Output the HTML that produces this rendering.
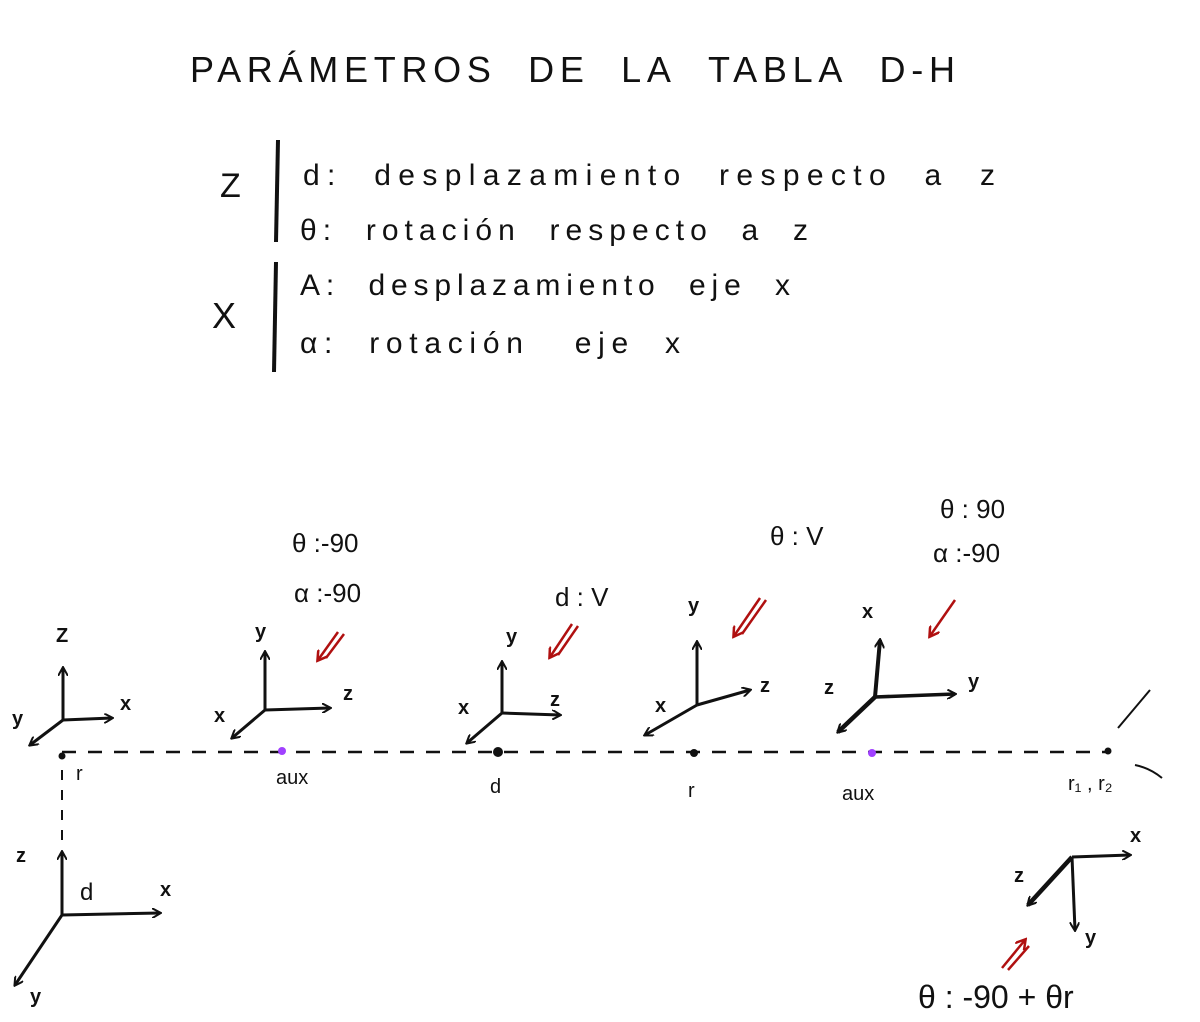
<!DOCTYPE html>
<html><head><meta charset="utf-8"><style>
html,body{margin:0;padding:0;background:#fff;}
svg{display:block;font-family:"Liberation Sans",sans-serif;}
text{fill:#111;}
</style></head><body>
<svg width="1200" height="1022" viewBox="0 0 1200 1022">
<defs>
<marker id="ah" markerWidth="10" markerHeight="10" refX="8" refY="5" orient="auto" markerUnits="userSpaceOnUse"><path d="M0,0 L9,5 L0,10" fill="none" stroke="#111" stroke-width="2"/></marker>
<marker id="ahr" markerWidth="12" markerHeight="12" refX="9" refY="6" orient="auto" markerUnits="userSpaceOnUse"><path d="M0,0 L10,6 L0,12" fill="none" stroke="#b01010" stroke-width="2.5"/></marker>
</defs>
<text x="190" y="82" font-size="36" textLength="765" lengthAdjust="spacing">PARÁMETROS&#160;&#160;DE&#160;&#160;LA&#160;&#160;TABLA&#160;&#160;D-H</text>

<g font-size="30">
<text x="220" y="197" font-size="34">Z</text>
<line x1="278" y1="140" x2="276" y2="242" stroke="#111" stroke-width="4"/>
<text x="303" y="185" textLength="692" lengthAdjust="spacing">d:&#160; desplazamiento&#160; respecto&#160; a&#160; z</text>
<text x="300" y="240" textLength="508" lengthAdjust="spacing">θ:&#160; rotación&#160; respecto&#160; a&#160; z</text>
<text x="212" y="328" font-size="36">X</text>
<line x1="276" y1="262" x2="274" y2="372" stroke="#111" stroke-width="4"/>
<text x="300" y="295" textLength="490" lengthAdjust="spacing">A:&#160; desplazamiento&#160; eje&#160; x</text>
<text x="300" y="353" textLength="380" lengthAdjust="spacing">α:&#160; rotación&#160;&#160; eje&#160; x</text>
</g>

<line x1="62" y1="752" x2="1108" y2="752" stroke="#111" stroke-width="2.5" stroke-dasharray="14,12"/>
<line x1="62" y1="770" x2="62" y2="850" stroke="#111" stroke-width="2" stroke-dasharray="10,10"/>

<g>
<circle cx="62" cy="756" r="3.5" fill="#111"/>
<circle cx="282" cy="751" r="4" fill="#a040ff"/>
<circle cx="498" cy="752" r="5" fill="#111"/>
<circle cx="694" cy="753" r="4" fill="#111"/>
<circle cx="872" cy="753" r="4" fill="#a040ff"/>
<circle cx="1108" cy="751" r="3.5" fill="#111"/>
</g>
<g font-size="20">
<text x="76" y="780">r</text>
<text x="276" y="784">aux</text>
<text x="490" y="793">d</text>
<text x="688" y="797">r</text>
<text x="842" y="800">aux</text>
<text x="1068" y="790">r₁ , r₂</text>
</g>

<g stroke="#111" stroke-width="3" fill="none" marker-end="url(#ah)">
<line x1="63" y1="720" x2="63" y2="668"/><line x1="63" y1="720" x2="112" y2="718"/><line x1="63" y1="720" x2="30" y2="745"/>
<line x1="265" y1="710" x2="265" y2="652"/><line x1="265" y1="710" x2="330" y2="708"/><line x1="265" y1="710" x2="232" y2="738"/>
<line x1="502" y1="713" x2="502" y2="662"/><line x1="502" y1="713" x2="560" y2="715"/><line x1="502" y1="713" x2="467" y2="743"/>
<line x1="697" y1="705" x2="697" y2="642"/><line x1="697" y1="705" x2="750" y2="690"/><line x1="697" y1="705" x2="645" y2="735"/>
<line x1="875" y1="697" x2="880" y2="640" stroke-width="4"/><line x1="875" y1="697" x2="955" y2="694" stroke-width="3.5"/><line x1="875" y1="697" x2="838" y2="732" stroke-width="4.5"/>
<line x1="62" y1="915" x2="62" y2="852"/><line x1="62" y1="915" x2="160" y2="913"/><line x1="62" y1="915" x2="15" y2="985"/>
<line x1="1072" y1="857" x2="1130" y2="855"/><line x1="1072" y1="857" x2="1075" y2="930"/><line x1="1072" y1="857" x2="1028" y2="905" stroke-width="4.5"/>
</g>
<g font-size="20" font-weight="bold">
<text x="56" y="642">Z</text><text x="120" y="710">x</text><text x="12" y="725">y</text>
<text x="255" y="638">y</text><text x="343" y="700">z</text><text x="214" y="722">x</text>
<text x="506" y="643">y</text><text x="550" y="706">z</text><text x="458" y="714">x</text>
<text x="688" y="612">y</text><text x="760" y="692">z</text><text x="655" y="712">x</text>
<text x="862" y="618">x</text><text x="968" y="688">y</text><text x="824" y="694">z</text>
<text x="16" y="862">z</text><text x="160" y="896">x</text><text x="30" y="1003">y</text><text x="80" y="900" font-weight="normal" font-size="24">d</text>
<text x="1130" y="842">x</text><text x="1085" y="944">y</text><text x="1014" y="882">z</text>
</g>

<g stroke="#b01010" stroke-width="2.5" fill="none">
<line x1="338" y1="632" x2="318" y2="660" marker-end="url(#ahr)"/><line x1="344" y1="634" x2="326" y2="658"/>
<line x1="572" y1="624" x2="550" y2="657" marker-end="url(#ahr)"/><line x1="578" y1="626" x2="558" y2="655"/>
<line x1="760" y1="598" x2="734" y2="636" marker-end="url(#ahr)"/><line x1="766" y1="600" x2="742" y2="634"/>
<line x1="955" y1="600" x2="930" y2="636" marker-end="url(#ahr)"/>
<line x1="1002" y1="968" x2="1025" y2="940" marker-end="url(#ahr)"/><line x1="1008" y1="970" x2="1029" y2="946"/>
</g>

<g font-size="26">
<text x="292" y="552">θ :-90</text>
<text x="294" y="602">α :-90</text>
<text x="555" y="606">d : V</text>
<text x="770" y="545">θ : V</text>
<text x="940" y="518">θ : 90</text>
<text x="933" y="562">α :-90</text>
<text x="918" y="1008" font-size="32">θ : -90 + θr</text>
</g>
<path d="M1118,728 L1150,690 M1135,765 Q1150,768 1162,778" stroke="#111" stroke-width="2" fill="none"/>
</svg>
</body></html>
